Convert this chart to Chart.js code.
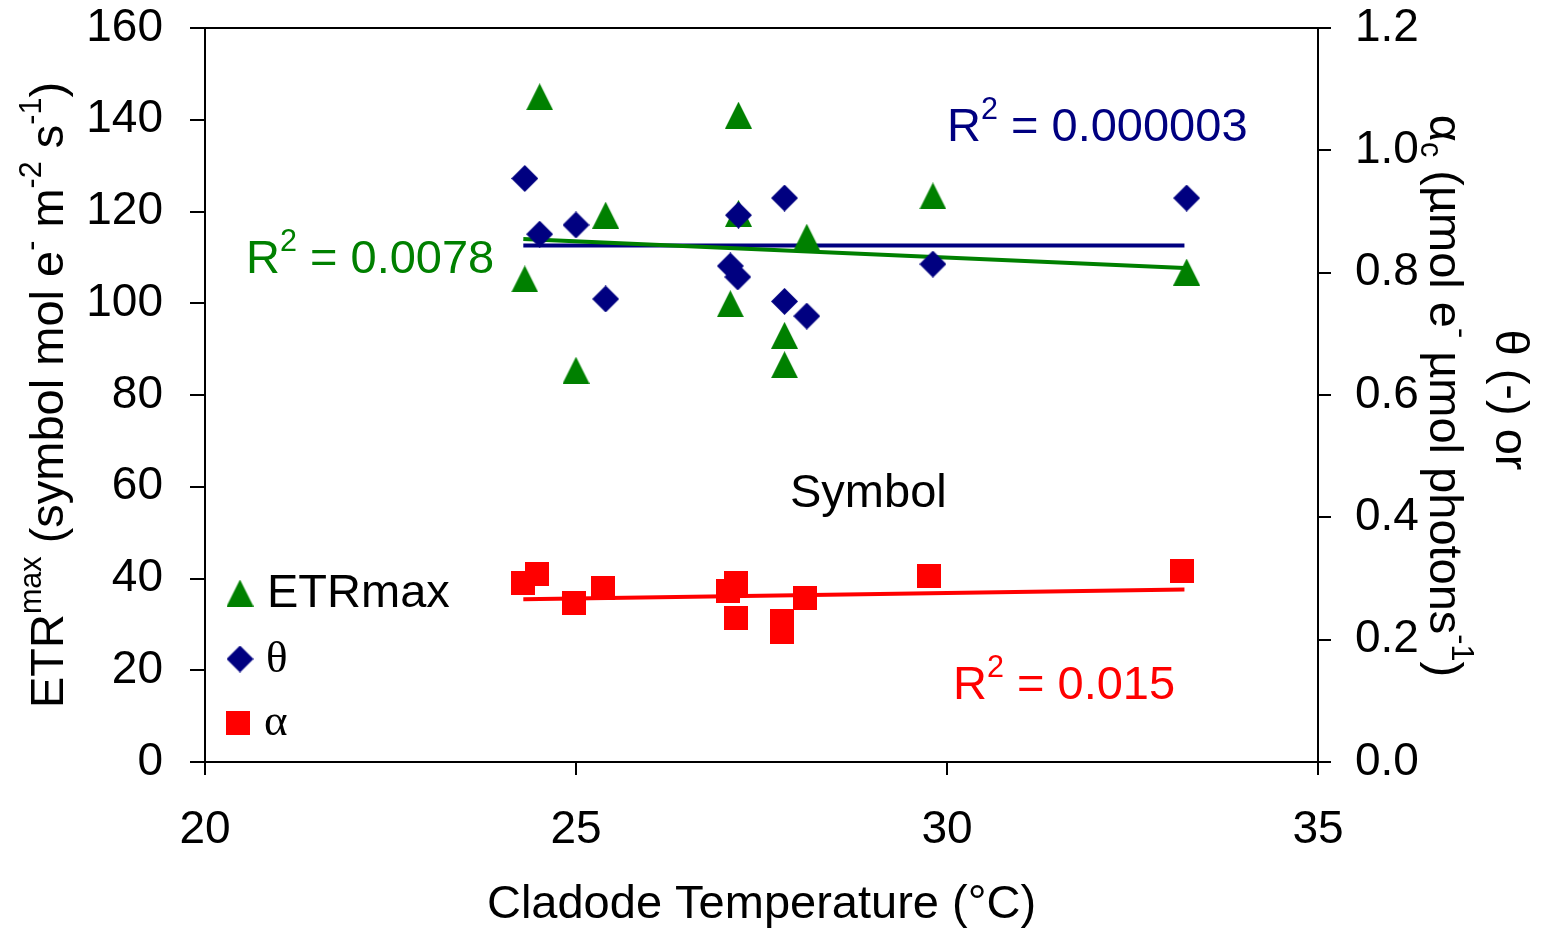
<!DOCTYPE html>
<html><head><meta charset="utf-8">
<script src="https://cdn.jsdelivr.net/npm/chart.js@4.4.1/dist/chart.umd.min.js"></script>
<style>html,body{margin:0;padding:0;background:#fff;overflow:hidden}#wrap{width:1542px;height:933px}</style>
</head><body><div id="wrap"><canvas id="c" width="1542" height="933"></canvas></div>
<script>
// ---- data ----
const tempEtr   = [24.31, 24.51, 25.00, 25.40, 27.08, 27.19, 27.19, 27.81, 27.81, 28.11, 29.81, 33.23];
const etrMax    = [105.3, 145.0, 85.4, 119.2, 99.9, 141.0, 119.6, 93.0, 86.6, 114.4, 123.4, 106.8];
const tempTheta = [24.31, 24.51, 25.00, 25.40, 27.08, 27.19, 27.18, 27.81, 27.81, 28.11, 29.81, 33.23];
const theta     = [0.954, 0.863, 0.878, 0.757, 0.811, 0.894, 0.793, 0.922, 0.753, 0.729, 0.814, 0.922];
const tempAlpha = [24.28, 24.47, 24.97, 25.36, 27.05, 27.15, 27.15, 27.78, 27.78, 28.08, 29.76, 33.17];
const alpha     = [0.292, 0.308, 0.260, 0.284, 0.280, 0.292, 0.236, 0.231, 0.212, 0.268, 0.304, 0.312];
const trendX     = [24.29, 33.20];
const trendEtr   = [114.0, 107.7];
const trendTheta = [0.8445, 0.8445];
const trendAlpha = [0.266, 0.282];
const xTicks  = [20, 25, 30, 35];
const yTicks  = [0, 20, 40, 60, 80, 100, 120, 140, 160];
const y2Ticks = [0.0, 0.2, 0.4, 0.6, 0.8, 1.0, 1.2];
const seriesNames = ['ETRmax', 'θ', 'α'];
const r2Labels = ['0.0078', '0.000003', '0.015'];

const GREEN = '#008000', NAVY = '#000080', RED = '#FF0000';
const SANS = '"Liberation Sans", Arial, sans-serif';
const SERIF = '"Liberation Serif", "Times New Roman", serif';

function marker(kind, color) {
  const c = document.createElement('canvas');
  const s = kind === 'square' ? 24 : 27;
  c.width = s; c.height = s;
  const g = c.getContext('2d');
  g.fillStyle = color;
  g.beginPath();
  if (kind === 'tri') { g.moveTo(s/2, 0); g.lineTo(s, s); g.lineTo(0, s); }
  else if (kind === 'diamond') { g.moveTo(s/2, 0); g.lineTo(s, s/2); g.lineTo(s/2, s); g.lineTo(0, s/2); }
  else { g.rect(0, 0, s, s); }
  g.closePath(); g.fill();
  return c;
}
const triImg = marker('tri', GREEN), diaImg = marker('diamond', NAVY), sqImg = marker('square', RED);

const pts = (xs, ys) => xs.map((x, i) => ({x, y: ys[i]}));

function drawRich(ctx, parts, x, y, size, family, color, align) {
  let total = 0;
  const items = parts.map(p => {
    const fs = p.s ? size * 0.65 : size;
    const f = fs + 'px ' + (p.f || family);
    ctx.font = f;
    const w = ctx.measureText(p.t).width;
    total += w;
    return {t: p.t, f, w, dy: p.s === 'sup' ? -size * 0.47 : (p.s === 'sub' ? size * 0.2 : 0)};
  });
  let cx = align === 'center' ? x - total / 2 : (align === 'right' ? x - total : x);
  ctx.fillStyle = color; ctx.textBaseline = 'alphabetic'; ctx.textAlign = 'left';
  items.forEach(it => { ctx.font = it.f; ctx.fillText(it.t, cx, y + it.dy); cx += it.w; });
}

const decor = {
  id: 'decor',
  afterDraw(chart) {
    const ctx = chart.ctx, a = chart.chartArea;
    ctx.save();
    // top frame line
    ctx.strokeStyle = '#000'; ctx.lineWidth = 2;
    ctx.beginPath(); ctx.moveTo(a.left, a.top); ctx.lineTo(a.right, a.top); ctx.stroke();

    // R² labels
    drawRich(ctx, [{t:'R'},{t:'2',s:'sup'},{t:' = ' + r2Labels[0]}], 246, 273, 47, SANS, GREEN, 'left');
    drawRich(ctx, [{t:'R'},{t:'2',s:'sup'},{t:' = ' + r2Labels[1]}], 947, 141, 47, SANS, NAVY, 'left');
    drawRich(ctx, [{t:'R'},{t:'2',s:'sup'},{t:' = ' + r2Labels[2]}], 953, 699, 47, SANS, RED, 'left');
    drawRich(ctx, [{t:'Symbol'}], 790, 507, 47, SANS, '#000', 'left');

    // legend
    ctx.drawImage(triImg, 240 - 13.5, 593 - 13.5);
    ctx.drawImage(diaImg, 240 - 13.5, 659 - 13.5);
    ctx.drawImage(sqImg, 238 - 12, 723 - 12);
    drawRich(ctx, [{t:seriesNames[0]}], 267, 607, 47, SANS, '#000', 'left');
    drawRich(ctx, [{t:seriesNames[1]}], 266, 672, 45, SERIF, '#000', 'left');
    drawRich(ctx, [{t:seriesNames[2]}], 264, 735, 45, SERIF, '#000', 'left');

    // left axis title
    ctx.save();
    ctx.translate(63, 395); ctx.rotate(-Math.PI / 2);
    drawRich(ctx, [{t:'ETR'},{t:'max',s:'sup'},{t:' (symbol mol e'},{t:'-',s:'sup'},{t:' m'},{t:'-2',s:'sup'},{t:' s'},{t:'-1',s:'sup'},{t:')'}], 0, 0, 47, SANS, '#000', 'center');
    ctx.restore();

    // right axis title (two lines, rotated clockwise)
    ctx.save();
    ctx.translate(1430, 396); ctx.rotate(Math.PI / 2);
    drawRich(ctx, [{t:'α'},{t:'c',s:'sub'},{t:' (µmol e'},{t:'-',s:'sup'},{t:' µmol photons'},{t:'-1',s:'sup'},{t:')'}], 0, 0, 47, SANS, '#000', 'center');
    ctx.restore();
    ctx.save();
    ctx.translate(1496, 400); ctx.rotate(Math.PI / 2);
    drawRich(ctx, [{t:'θ (-) or'}], 0, 0, 47, SANS, '#000', 'center');
    ctx.restore();
    ctx.restore();
  }
};

const tickFont = {family: SANS, size: 46};
new Chart(document.getElementById('c'), {
  type: 'scatter',
  data: {
    datasets: [
      {label: 'ETRmax trend', type: 'line', data: pts(trendX, trendEtr), yAxisID: 'y', borderColor: GREEN, borderWidth: 4, pointRadius: 0, fill: false, order: 5},
      {label: 'θ trend', type: 'line', data: pts(trendX, trendTheta), yAxisID: 'y2', borderColor: NAVY, borderWidth: 4, pointRadius: 0, fill: false, order: 6},
      {label: 'α trend', type: 'line', data: pts(trendX, trendAlpha), yAxisID: 'y2', borderColor: RED, borderWidth: 4, pointRadius: 0, fill: false, order: 4},
      {label: seriesNames[0], data: pts(tempEtr, etrMax), yAxisID: 'y', pointStyle: triImg, order: 3},
      {label: seriesNames[1], data: pts(tempTheta, theta), yAxisID: 'y2', pointStyle: diaImg, order: 2},
      {label: seriesNames[2], data: pts(tempAlpha, alpha), yAxisID: 'y2', pointStyle: sqImg, order: 1}
    ]
  },
  options: {
    responsive: false, animation: false, devicePixelRatio: 1,
    layout: {padding: {top: 28, left: 0, right: 0, bottom: 0}},
    plugins: {legend: {display: false}, tooltip: {enabled: false}},
    scales: {
      x: {
        type: 'linear', min: 20, max: 35,
        afterBuildTicks: s => { s.ticks = xTicks.map(v => ({value: v})); },
        afterFit: s => { s.height = 171; s.paddingLeft = 0; s.paddingRight = 0; },
        grid: {drawOnChartArea: false, color: '#000', lineWidth: 2, tickLength: 13},
        border: {color: '#000', width: 2},
        ticks: {font: tickFont, color: '#000', padding: 28, maxRotation: 0},
        title: {display: true, text: 'Cladode Temperature (°C)', font: {family: SANS, size: 47, lineHeight: 1.2}, color: '#000', padding: 0}
      },
      y: {
        position: 'left', min: 0, max: 160,
        afterBuildTicks: s => { s.ticks = yTicks.map(v => ({value: v})); },
        afterFit: s => { s.width = 205; s.paddingTop = 0; s.paddingBottom = 0; },
        grid: {drawOnChartArea: false, color: '#000', lineWidth: 2, tickLength: 15},
        border: {color: '#000', width: 2},
        ticks: {font: tickFont, color: '#000', padding: 27}
      },
      y2: {
        position: 'right', min: 0, max: 1.2,
        afterBuildTicks: s => { s.ticks = y2Ticks.map(v => ({value: v})); },
        afterFit: s => { s.width = 224; s.paddingTop = 0; s.paddingBottom = 0; },
        grid: {drawOnChartArea: false, color: '#000', lineWidth: 2, tickLength: 13},
        border: {color: '#000', width: 2},
        ticks: {font: tickFont, color: '#000', padding: 24, callback: v => Number(v).toFixed(1)}
      }
    }
  },
  plugins: [decor]
});
</script></body></html>
